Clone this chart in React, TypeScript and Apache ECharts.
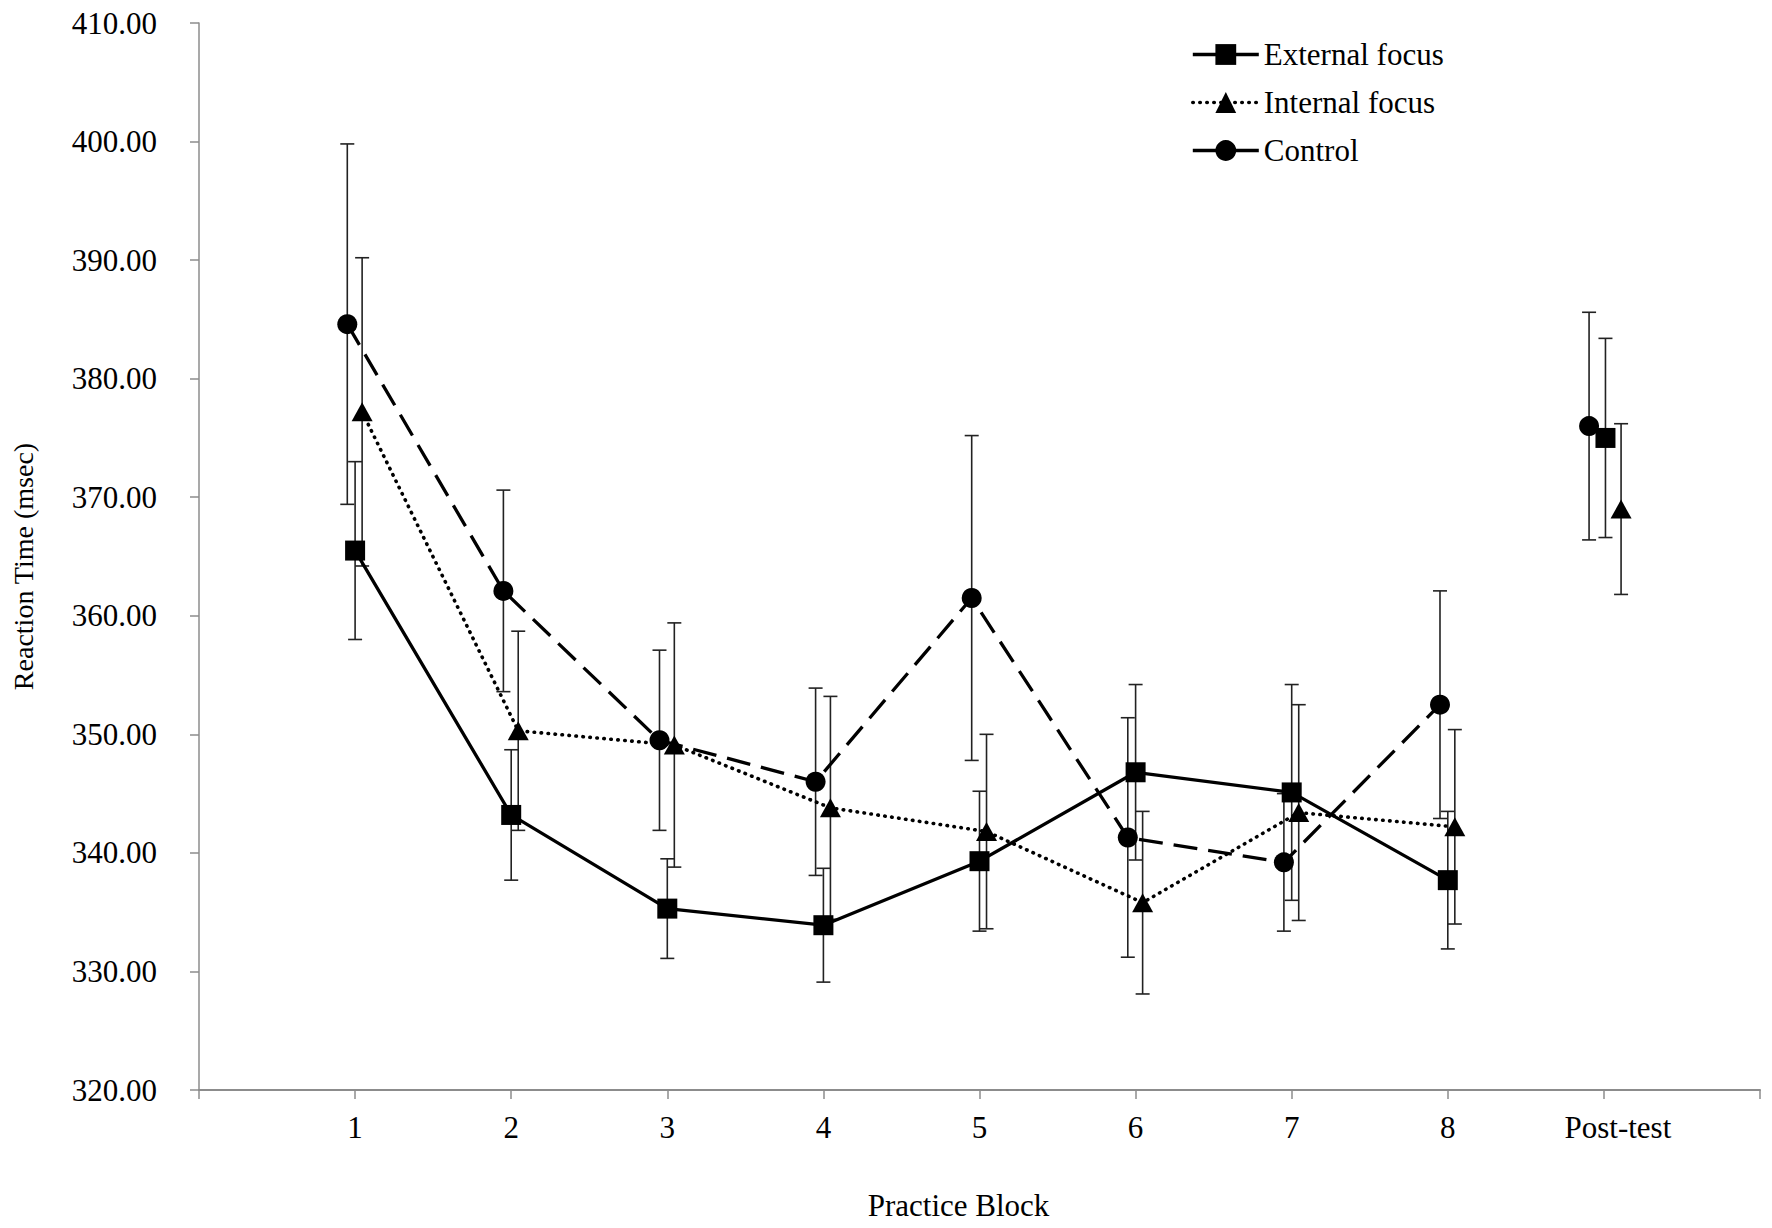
import React, { useEffect, useRef } from "react";
import * as echarts from "echarts";

const BLOCKS = [1, 2, 3, 4, 5, 6, 7, 8];
const POST_X = 9;
const X_LABELS = ["1", "2", "3", "4", "5", "6", "7", "8", "Post-test"];
const Y_TICKS_MIN = 320;
const Y_TICKS_MAX = 410;

const externalMean = [365.5, 343.2, 335.3, 333.9, 339.3, 346.8, 345.1, 337.7];
const externalErr = [7.5, 5.5, 4.2, 4.8, 5.9, 7.4, 9.1, 5.8];
const externalPost = 375.0;
const externalPostErr = 8.4;

const internalMean = [377.2, 350.3, 349.1, 343.8, 341.8, 335.8, 343.4, 342.2];
const internalErr = [13.0, 8.4, 10.3, 9.4, 8.2, 7.7, 9.1, 8.2];
const internalPost = 369.0;
const internalPostErr = 7.2;

const controlMean = [384.6, 362.1, 349.5, 346.0, 361.5, 341.3, 339.2, 352.5];
const controlErr = [15.2, 8.5, 7.6, 7.9, 13.7, 10.1, 5.8, 9.6];
const controlPost = 376.0;
const controlPostErr = 9.6;

const FONT = "'Liberation Serif', 'Times New Roman', serif";

type Group = {
  name: string;
  mean: number[];
  err: number[];
  post: number;
  postErr: number;
  off: number;
  postOff: number;
  symbol: string;
  symbolSize: number | number[];
  lineType: any;
  lineWidth: number;
  cap: string;
};

const groups: Group[] = [
  {
    name: "External focus",
    mean: externalMean,
    err: externalErr,
    post: externalPost,
    postErr: externalPostErr,
    off: 0,
    postOff: 0.01,
    symbol: "rect",
    symbolSize: 20,
    lineType: "solid",
    lineWidth: 3.3,
    cap: "butt",
  },
  {
    name: "Internal focus",
    mean: internalMean,
    err: internalErr,
    post: internalPost,
    postErr: internalPostErr,
    off: 0.045,
    postOff: 0.11,
    symbol: "triangle",
    symbolSize: [21, 19],
    lineType: [0.5, 6.5],
    lineWidth: 3.6,
    cap: "round",
  },
  {
    name: "Control",
    mean: controlMean,
    err: controlErr,
    post: controlPost,
    postErr: controlPostErr,
    off: -0.05,
    postOff: -0.095,
    symbol: "circle",
    symbolSize: 20,
    lineType: [24, 11],
    lineWidth: 3.3,
    cap: "butt",
  },
];

function errorRender(params: any, api: any) {
  const x = api.value(0);
  const lo = api.coord([x, api.value(1)]);
  const hi = api.coord([x, api.value(2)]);
  const w = 7;
  const style = { stroke: "#222", lineWidth: 1.6 };
  return {
    type: "group",
    children: [
      { type: "line", shape: { x1: lo[0], y1: lo[1], x2: hi[0], y2: hi[1] }, style },
      { type: "line", shape: { x1: lo[0] - w, y1: lo[1], x2: lo[0] + w, y2: lo[1] }, style },
      { type: "line", shape: { x1: hi[0] - w, y1: hi[1], x2: hi[0] + w, y2: hi[1] }, style },
    ],
  };
}

export default function App() {
  const ref = useRef<HTMLDivElement>(null);
  useEffect(() => {
    if (!ref.current) return;
    const chart = echarts.init(ref.current, null, { renderer: "svg" });
    const series: any[] = [];
    groups.forEach((g) => {
      const pts = BLOCKS.map((b, i) => [b + g.off, g.mean[i]]);
      series.push({
        type: "line",
        name: g.name,
        data: pts,
        symbol: g.symbol,
        symbolSize: g.symbolSize,
        showAllSymbol: true,
        itemStyle: { color: "#000", opacity: 1 },
        lineStyle: { color: "#000", width: g.lineWidth, type: g.lineType, cap: g.cap },
        z: 3,
      });
      series.push({
        type: "scatter",
        name: g.name,
        data: [[POST_X + g.postOff, g.post]],
        symbol: g.symbol,
        symbolSize: g.symbolSize,
        itemStyle: { color: "#000", opacity: 1 },
        z: 3,
      });
      const errData = BLOCKS.map((b, i) => [b + g.off, g.mean[i] - g.err[i], g.mean[i] + g.err[i]]);
      errData.push([POST_X + g.postOff, g.post - g.postErr, g.post + g.postErr]);
      series.push({
        type: "custom",
        name: g.name + " SE",
        renderItem: errorRender,
        data: errData,
        encode: { x: 0, y: [1, 2] },
        z: 2,
        silent: true,
      });
    });

    chart.setOption({
      animation: false,
      backgroundColor: "#fff",
      textStyle: { fontFamily: FONT },
      grid: { left: 199, right: 12, top: 23, bottom: 138, containLabel: false },
      legend: {
        orient: "vertical",
        left: 1186,
        top: 34,
        itemWidth: 66,
        itemHeight: 26,
        itemGap: 17,
        lineStyle: { width: 3.3 },
        textStyle: { fontSize: 31, fontFamily: FONT, color: "#000" },
        data: [
          { name: "External focus", lineStyle: { width: 3.3 } },
          { name: "Internal focus", lineStyle: { width: 3.6, type: [0.5, 6.5], cap: "round" } },
          { name: "Control", lineStyle: { type: "solid", width: 3.3 } },
        ],
      },
      xAxis: {
        type: "value",
        min: 0,
        max: 10,
        interval: 1,
        name: "Practice Block",
        nameLocation: "middle",
        nameGap: 100,
        nameTextStyle: { fontSize: 31, fontFamily: FONT, color: "#000", padding: [0, 42, 0, 0] },
        axisLine: { lineStyle: { color: "#8c8c8c", width: 2 } },
        axisTick: { show: true, length: 9, lineStyle: { color: "#8c8c8c", width: 1.5 } },
        splitLine: { show: false },
        axisLabel: {
          fontSize: 31,
          fontFamily: FONT,
          color: "#000",
          margin: 22,
          showMinLabel: true,
          showMaxLabel: true,
          formatter: (v: number) => {
            const i = Math.round(v) - 1;
            if (i === X_LABELS.length - 1) return "{p|" + X_LABELS[i] + "}";
            return i >= 0 && i < X_LABELS.length ? X_LABELS[i] : "";
          },
          rich: {
            p: { fontSize: 31, fontFamily: FONT, color: "#000", padding: [0, 0, 0, 28] },
          },
        },
      },
      yAxis: {
        type: "value",
        min: Y_TICKS_MIN,
        max: Y_TICKS_MAX,
        interval: 10,
        name: "Reaction Time (msec)",
        nameLocation: "middle",
        nameGap: 162,
        nameTextStyle: { fontSize: 28, fontFamily: FONT, color: "#000", padding: [0, 20, 0, 0] },
        axisLine: { show: true, lineStyle: { color: "#8c8c8c", width: 1.5 } },
        axisTick: { show: true, length: 9, lineStyle: { color: "#8c8c8c", width: 1.5 } },
        splitLine: { show: false },
        axisLabel: {
          fontSize: 31,
          fontFamily: FONT,
          color: "#000",
          margin: 42,
          formatter: (v: number) => v.toFixed(2),
        },
      },
      series,
    });
    return () => chart.dispose();
  }, []);
  return (
    <div
      ref={ref}
      style={{ position: "fixed", left: 0, top: 0, width: 1772, height: 1228, background: "#fff" }}
    />
  );
}
